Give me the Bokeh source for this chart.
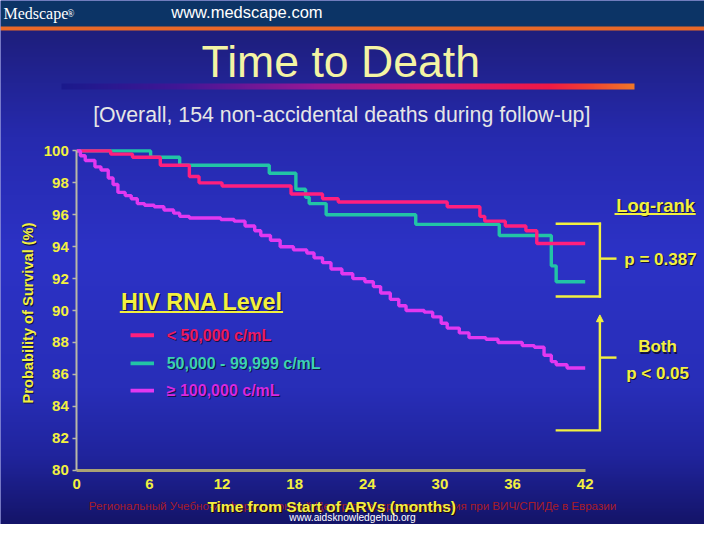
import numpy as np
from math import pi
from bokeh.plotting import figure
from bokeh.models import Label, Arrow, NormalHead, FixedTicker
from bokeh.embed import file_html
from bokeh.resources import INLINE

# ---------------- data ----------------
months_lt50k = [0, 2.8, 4.6, 6.9, 9.3, 10.1, 12.0, 17.7, 20.3, 21.6, 30.6, 33.3, 33.7, 35.4, 37.1, 38.0, 42]
surv_lt50k = [100, 99.8, 99.6, 99.1, 98.4, 98.0, 97.8, 97.3, 97.0, 96.8, 96.5, 95.9, 95.6, 95.3, 95.0, 94.2, 94.2]

months_50to99k = [0, 6.1, 8.5, 15.9, 18.1, 18.9, 19.2, 20.6, 28.0, 34.9, 39.2, 39.6, 42]
surv_50to99k = [100, 99.6, 99.1, 98.6, 97.6, 97.1, 96.7, 96.0, 95.4, 94.7, 92.8, 91.8, 91.8]

months_ge100k = [0, 0.3, 0.7, 1.5, 2.0, 2.6, 3.0, 3.4, 4.0, 4.5, 5.0, 5.6, 6.4, 7.2, 8.0, 8.5, 9.3,
                 11.9, 13.0, 13.9, 14.7, 15.2, 16.0, 16.8, 17.9, 19.0, 19.6, 20.3, 21.0, 21.9, 22.8,
                 23.8, 24.5, 25.1, 25.9, 26.6, 27.2, 28.7, 29.4, 30.1, 30.6, 31.6, 32.4, 33.8, 34.8,
                 36.8, 37.8, 38.6, 39.2, 39.6, 40.5, 42]
surv_ge100k = [100, 99.7, 99.4, 99.0, 98.8, 98.3, 97.9, 97.4, 97.2, 97.0, 96.7, 96.6, 96.5, 96.3, 96.1, 95.9, 95.8,
               95.7, 95.6, 95.3, 95.0, 94.7, 94.4, 94.0, 93.8, 93.6, 93.3, 93.0, 92.6, 92.3, 92.0,
               91.8, 91.5, 91.1, 90.7, 90.3, 90.0, 89.9, 89.6, 89.2, 88.9, 88.6, 88.3, 88.2, 88.0,
               87.8, 87.7, 87.2, 86.8, 86.6, 86.4, 86.4]

x_ticks = [0, 6, 12, 18, 24, 30, 36, 42]
y_ticks = [80, 82, 84, 86, 88, 90, 92, 94, 96, 98, 100]

series_labels = ["< 50,000 c/mL", "50,000 - 99,999 c/mL", "\u2265 100,000 c/mL"]

# ---------------- geometry ----------------
REF_W, REF_H = 720, 540
W, H = 704, 524
FX, FY = W / REF_W, H / REF_H

X0_PX, X1_PX = 78, 598      # pixel of first / last x tick (reference)
YT_PX, YB_PX = 155, 484     # pixel of top / bottom y tick (reference)
kx = (X1_PX - X0_PX) / (x_ticks[-1] - x_ticks[0])
ky = (YB_PX - YT_PX) / (y_ticks[-1] - y_ticks[0])
x_start = x_ticks[0] - X0_PX / kx
x_end = x_ticks[0] + (REF_W - X0_PX) / kx
y_end = y_ticks[-1] + YT_PX / ky
y_start = y_ticks[0] - (REF_H - YB_PX) / ky

FONT = "Liberation Sans"
YELLOW = "#f2f040"
C_PINK, C_TEAL, C_MAG = "#ff1f7e", "#22c4a6", "#e238f0"
T_PINK, T_TEAL, T_MAG = "#ec1a66", "#3cd2b2", "#d828e0"


def sx(px):
    return px * FX


def sy(py):
    return (REF_H - py) * FY


def fpx(s):
    return f"{s * FY:.1f}px"


p = figure(width=W, height=H, output_backend="svg", toolbar_location=None, title=None,
           x_range=(x_start, x_end), y_range=(y_start, y_end), min_border=0)
p.outline_line_color = None
p.background_fill_color = "#2a2fb8"
p.border_fill_color = "#2a2fb8"
p.grid.visible = False

# ---------------- background (slide gradient, header, title bar) ----------------
bg = np.zeros((REF_H, REF_W, 4), dtype=np.uint8)
rows = np.arange(REF_H) + 0.5
sy_stops = [31, 140, 260, 400, 470, 540]
sc_stops = [(30, 30, 124), (38, 42, 174), (44, 50, 198), (40, 46, 184), (32, 36, 156), (20, 20, 104)]
for ch in range(3):
    bg[:, :, ch] = np.interp(rows, sy_stops, [c[ch] for c in sc_stops]).astype(np.uint8)[:, None]
bg[0:27, :, 0:3] = (12, 52, 102)
bg[27:31, :, 0:3] = (232, 104, 40)
cols = np.arange(62, 648) + 0.5
bx_stops = [62, 180, 320, 450, 560, 600, 648]
bc_stops = [(26, 26, 140), (64, 22, 150), (150, 24, 150), (212, 24, 112), (240, 24, 70), (240, 64, 50), (242, 120, 40)]
for ch in range(3):
    bg[86:92, 62:648, ch] = np.interp(cols, bx_stops, [c[ch] for c in bc_stops]).astype(np.uint8)[None, :]
bg[:, :, 3] = 255
packed = np.ascontiguousarray(np.flipud(bg.view(np.uint32).reshape(REF_H, REF_W)))
p.image_rgba(image=[packed], x=x_start, y=y_start, dw=x_end - x_start, dh=y_end - y_start, level="image")

# ---------------- curves ----------------
lw = 3.5 * FY
p.step(months_50to99k, surv_50to99k, mode="after", line_color=C_TEAL, line_width=lw)
p.step(months_lt50k, surv_lt50k, mode="after", line_color=C_PINK, line_width=lw)
p.step(months_ge100k, surv_ge100k, mode="after", line_color=C_MAG, line_width=lw)

# ---------------- axes ----------------
p.xaxis.fixed_location = y_ticks[0]
p.xaxis.bounds = (x_ticks[0], x_ticks[-1])
p.xaxis.ticker = FixedTicker(ticks=x_ticks)
p.xaxis.axis_line_color = "#aaa274"
p.xaxis.axis_line_width = 3
p.xaxis.major_tick_out = 0
p.xaxis.major_tick_in = 0
p.xaxis.minor_tick_line_color = None
p.xaxis.major_label_standoff = 9
p.xaxis.major_label_text_font = FONT
p.xaxis.major_label_text_font_style = "bold"
p.xaxis.major_label_text_font_size = fpx(15.5)
p.xaxis.major_label_text_color = YELLOW

p.yaxis.fixed_location = x_ticks[0]
p.yaxis.bounds = (y_ticks[0], y_ticks[-1])
p.yaxis.ticker = FixedTicker(ticks=y_ticks)
p.yaxis.axis_line_color = "#b8b8a8"
p.yaxis.axis_line_width = 2
p.yaxis.major_tick_out = 4
p.yaxis.major_tick_in = 0
p.yaxis.major_tick_line_color = "#b8b8a8"
p.yaxis.major_tick_line_width = 1.5
p.yaxis.minor_tick_line_color = None
p.yaxis.major_label_standoff = 4
p.yaxis.major_label_text_font = FONT
p.yaxis.major_label_text_font_style = "bold"
p.yaxis.major_label_text_font_size = fpx(15.5)
p.yaxis.major_label_text_color = YELLOW


# ---------------- helpers ----------------
def label(text, x, y, size, color, style="normal", align="center", baseline="middle",
          font=FONT, angle=0, shadow=None):
    if shadow:
        p.add_layout(Label(x=sx(x + 1.2), y=sy(y + 1.2), x_units="screen", y_units="screen", text=text,
                           text_font=font, text_font_size=fpx(size), text_color=shadow,
                           text_font_style=style, text_align=align, text_baseline=baseline, angle=angle))
    p.add_layout(Label(x=sx(x), y=sy(y), x_units="screen", y_units="screen", text=text,
                       text_font=font, text_font_size=fpx(size), text_color=color,
                       text_font_style=style, text_align=align, text_baseline=baseline, angle=angle))


def seg(x0, y0, x1, y1, color=YELLOW, width=2.5, end=None, cap="square"):
    p.add_layout(Arrow(x_start=sx(x0), y_start=sy(y0), x_end=sx(x1), y_end=sy(y1),
                       start_units="screen", end_units="screen", end=end,
                       line_color=color, line_width=width * FY, line_cap=cap))


# ---------------- header & titles ----------------
label("Medscape", 3, 13, 16.5, "white", align="left", font="Liberation Serif")
label("\u00ae", 68, 13, 10, "white", align="left", font="Liberation Serif")
label("www.medscape.com", 252, 12, 17, "white")
label("Time to Death", 348, 63, 46, "#f4f4a4")
label("[Overall, 154 non-accidental deaths during follow-up]", 349, 118, 22, "#e6e6e6")

# axis titles
label("Probability of Survival (%)", 28, 322, 15, YELLOW, style="bold", angle=pi / 2, shadow="#101040")
label("\u0420\u0435\u0433\u0438\u043e\u043d\u0430\u043b\u044c\u043d\u044b\u0439 \u0423\u0447\u0435\u0431\u043d\u043e-"
      "\u0418\u043d\u0444\u043e\u0440\u043c\u0430\u0446\u0438\u043e\u043d\u043d\u044b\u0439 \u0426\u0435\u043d\u0442\u0440 "
      "\u043f\u043e \u0432\u043e\u043f\u0440\u043e\u0441\u0430\u043c \u043b\u0435\u0447\u0435\u043d\u0438\u044f "
      "\u043f\u0440\u0438 \u0412\u0418\u0427/\u0421\u041f\u0418\u0414\u0435 \u0432 \u0415\u0432\u0440\u0430\u0437\u0438\u0438",
      360, 520, 12, "#a81c28")
label("Time from Start of ARVs (months)", 339, 521, 16, YELLOW, style="bold", shadow="#200808")
label("www.aidsknowledgehub.org", 360, 533, 10.5, "white")

# ---------------- legend ----------------
label("HIV RNA Level", 206, 311, 24, YELLOW, style="bold", shadow="#101040")
seg(122, 321, 289, 321, width=2, cap="butt")
leg_colors = [C_PINK, C_TEAL, C_MAG]
leg_text_colors = [T_PINK, T_TEAL, T_MAG]
leg_y = [345, 374, 402]
for lab, lc, tc, yy in zip(series_labels, leg_colors, leg_text_colors, leg_y):
    seg(133, yy, 157, yy, color=lc, width=4, cap="butt")
    label(lab, 170, yy, 16.5, tc, style="bold", align="left", shadow="#12124a")

# ---------------- log-rank annotations ----------------
label("Log-rank", 670, 211, 19, YELLOW, style="bold", shadow="#101040")
seg(628, 220, 711, 220, width=2, cap="butt")
# bracket 1
seg(569, 230, 613, 230)
seg(613, 230, 613, 305)
seg(569, 305, 613, 305)
seg(613, 266, 630, 266, cap="butt")
label("p = 0.387", 675, 267, 17.5, YELLOW, style="bold", shadow="#101040")
# bracket 2
seg(613, 443, 613, 324, end=NormalHead(size=7 * FY, fill_color=YELLOW, line_color=YELLOW), cap="butt")
seg(569, 443, 613, 443)
seg(613, 368, 630, 368, cap="butt")
label("Both", 672, 357, 17.5, YELLOW, style="bold", shadow="#101040")
label("p < 0.05", 672, 384, 17.5, YELLOW, style="bold", shadow="#101040")

open("out.html", "w").write(file_html(p, INLINE))
